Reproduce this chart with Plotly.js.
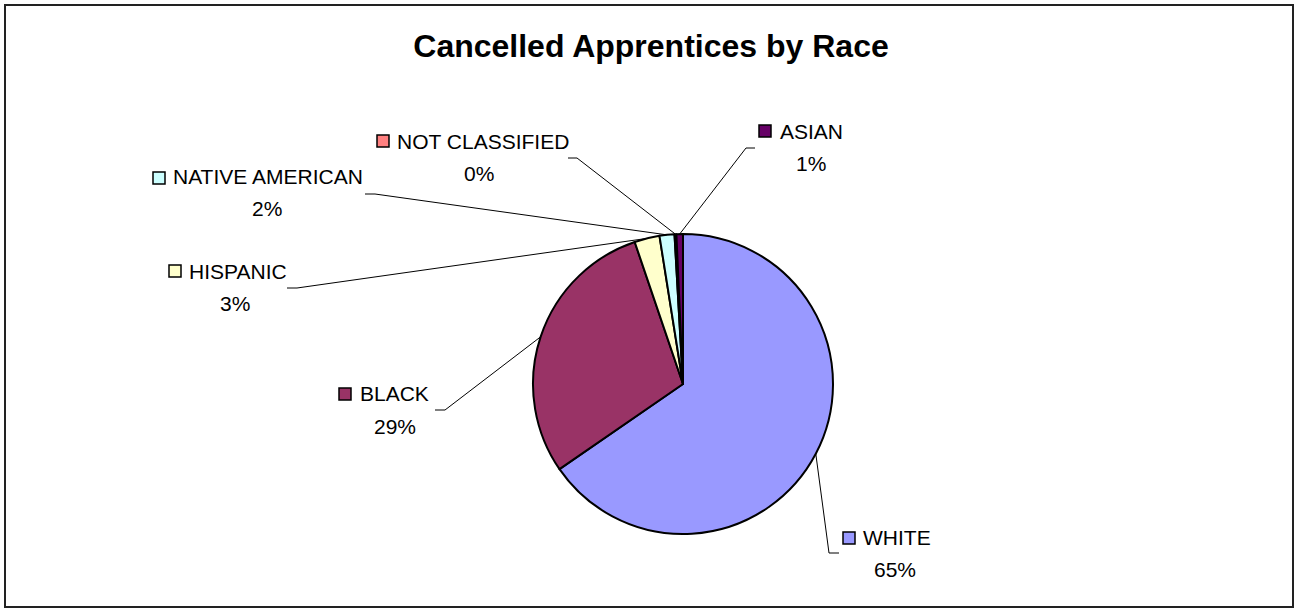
<!DOCTYPE html>
<html>
<head>
<meta charset="utf-8">
<script src="https://cdn.plot.ly/plotly-3.0.1.min.js"></script>
<style>
  html, body { margin: 0; padding: 0; background: #fff; }
  #chart { width: 1296px; height: 610px; }
</style>
</head>
<body>
<div id="chart"></div>
<script>
// ---- data ----
const categories = ["WHITE", "BLACK", "HISPANIC", "NATIVE AMERICAN", "NOT CLASSIFIED", "ASIAN"];
const counts = [652, 293, 27, 16, 2, 7];
const sliceColors = ["#9999FF", "#993366", "#FFFFCC", "#CCFFFF", "#FF8080", "#660066"];
const chartTitle = "Cancelled Apprentices by Race";

// ---- layout constants (pixels) ----
const W = 1296, H = 610;
const CX = 683, CY = 384, R = 150;
// per-label placement: square left/top, name x / center y, percent center x / y, elbow and end of leader line
const labelPos = [
  { sq: [843, 532], name: [861, 537], pct: [895, 569], elbow: [829, 553], end: [839, 553] },
  { sq: [339, 388], name: [358, 393], pct: [395, 426], elbow: [445, 410], end: [435, 410] },
  { sq: [169, 265], name: [187, 271], pct: [235, 303], elbow: [297, 288], end: [287, 288] },
  { sq: [153, 172], name: [171, 177], pct: [267, 209], elbow: [375, 194], end: [365, 194] },
  { sq: [377, 135], name: [395, 141], pct: [479, 173], elbow: [577, 158], end: [568, 158] },
  { sq: [759, 125], name: [778, 131], pct: [811, 163], elbow: [746, 148], end: [755, 148] }
];
const SQ = 12;
const FONT = "Liberation Sans, Arial, sans-serif";

const px = x => x / W;
const py = y => 1 - y / H;

const total = counts.reduce((a, b) => a + b, 0);
let cum = 0;
const shapes = [];
const annotations = [];

// outer frame
shapes.push({ type: "rect", xref: "paper", yref: "paper",
  x0: px(5), x1: px(1293), y0: py(607), y1: py(5),
  line: { color: "#222", width: 2 }, fillcolor: "rgba(0,0,0,0)" });

counts.forEach((v, i) => {
  const frac = v / total;
  const mid = cum + frac / 2;
  cum += frac;
  const th = 2 * Math.PI * mid;
  const ex = CX + R * Math.sin(th);
  const ey = CY - R * Math.cos(th);
  const L = labelPos[i];
  shapes.push({ type: "path", xref: "paper", yref: "paper",
    path: `M ${px(ex)},${py(ey)} L ${px(L.elbow[0])},${py(L.elbow[1])} L ${px(L.end[0])},${py(L.end[1])}`,
    line: { color: "#000", width: 1 } });
  shapes.push({ type: "rect", xref: "paper", yref: "paper",
    x0: px(L.sq[0]), x1: px(L.sq[0] + SQ), y0: py(L.sq[1] + SQ), y1: py(L.sq[1]),
    fillcolor: sliceColors[i], line: { color: "#000", width: 1.5 } });
  annotations.push({ xref: "paper", yref: "paper", x: px(L.name[0]), y: py(L.name[1]),
    xanchor: "left", yanchor: "middle", showarrow: false, text: categories[i],
    font: { family: FONT, size: 21, color: "#000" } });
  annotations.push({ xref: "paper", yref: "paper", x: px(L.pct[0]), y: py(L.pct[1]),
    xanchor: "center", yanchor: "middle", showarrow: false,
    text: Math.round(frac * 100) + "%",
    font: { family: FONT, size: 21, color: "#000" } });
});

const trace = {
  type: "pie",
  labels: categories,
  values: counts,
  sort: false,
  direction: "clockwise",
  rotation: 0,
  textinfo: "none",
  hoverinfo: "label+percent",
  showlegend: false,
  marker: { colors: sliceColors, line: { color: "#000", width: 2 } },
  domain: { x: [px(CX - R), px(CX + R)], y: [py(CY + R), py(CY - R)] }
};

const layout = {
  width: W, height: H,
  margin: { l: 0, r: 0, t: 0, b: 0 },
  paper_bgcolor: "#fff",
  plot_bgcolor: "#fff",
  title: { text: "<b>" + chartTitle + "</b>", x: px(651), xanchor: "center",
    y: py(46), yanchor: "middle", yref: "paper",
    font: { family: FONT, size: 32, color: "#000" } },
  shapes: shapes,
  annotations: annotations
};

Plotly.newPlot("chart", [trace], layout, { displayModeBar: false, staticPlot: true });
</script>
</body>
</html>
